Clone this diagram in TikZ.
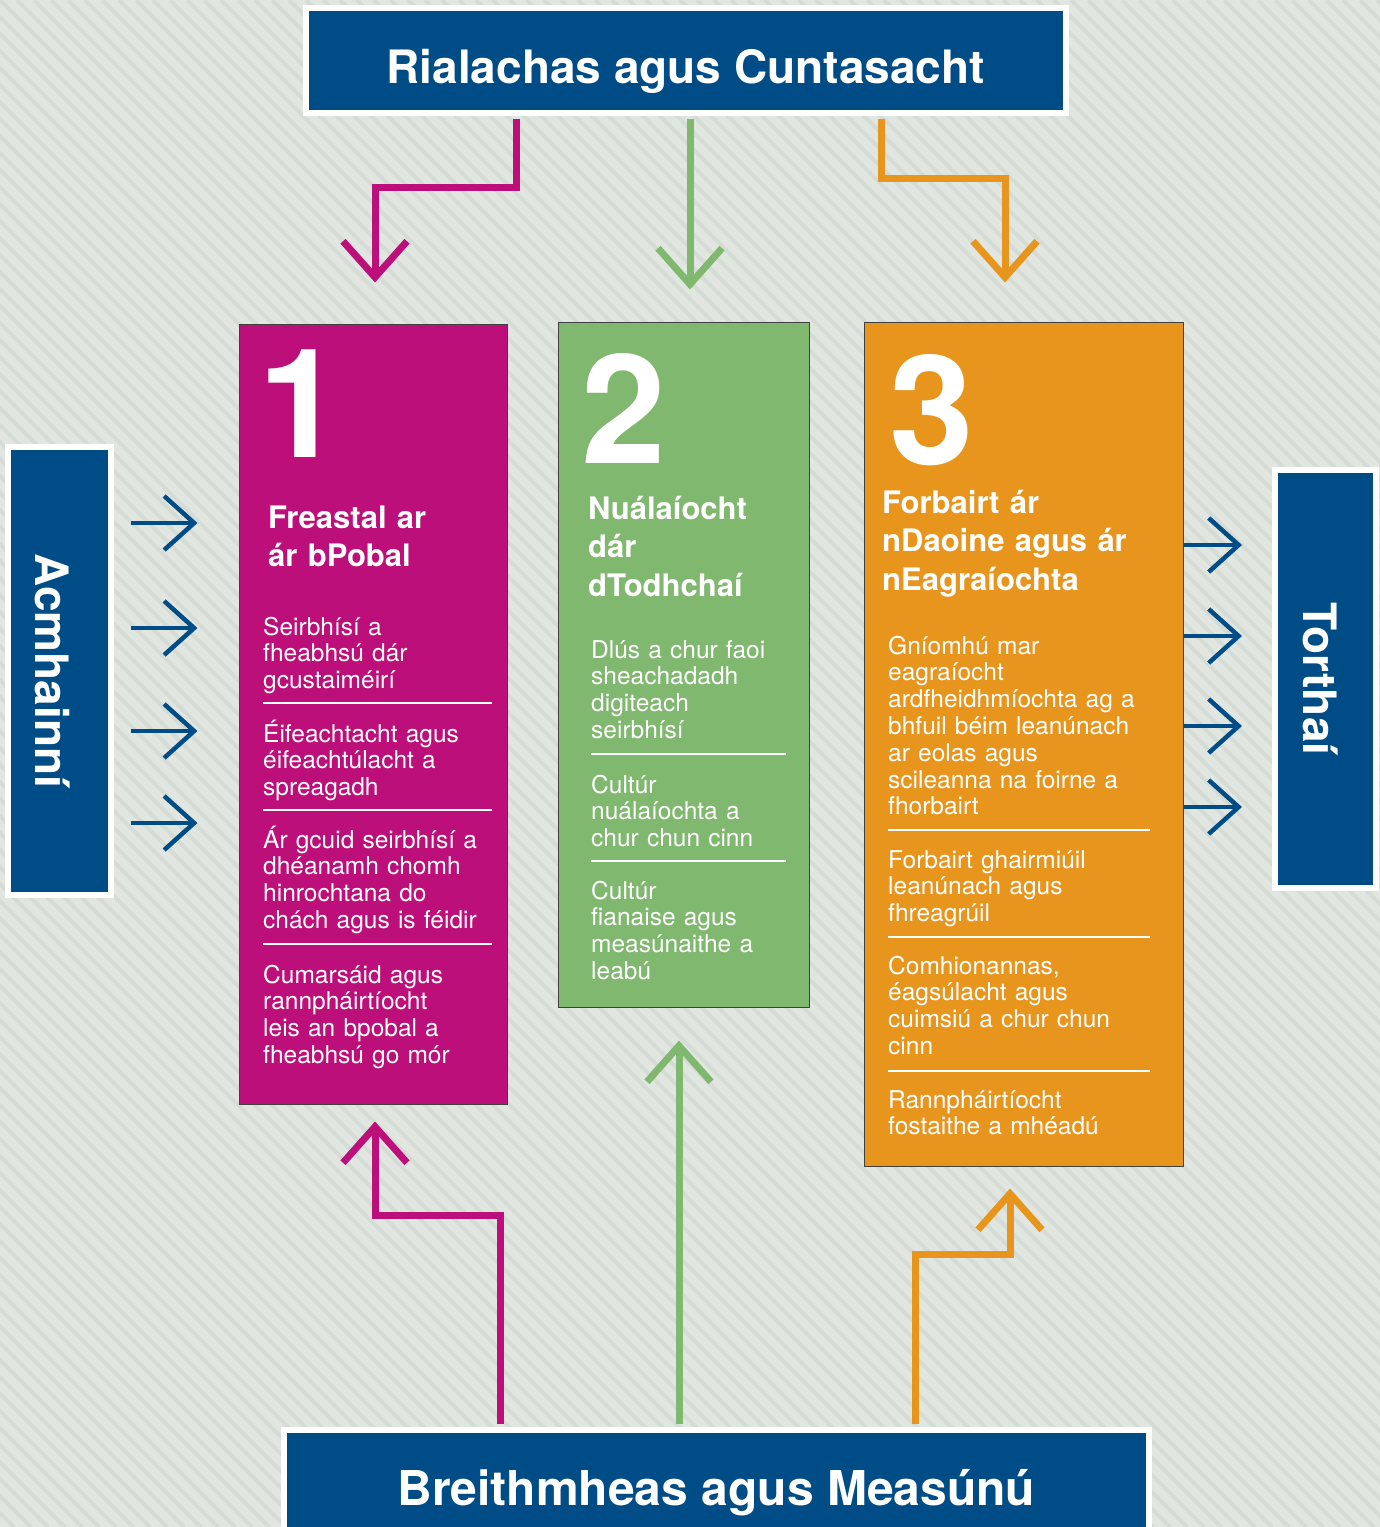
\documentclass[tikz,border=0pt]{standalone}
\usepackage{fontspec}
\setmainfont{TeX Gyre Heros}
\usepackage{tikz}
\usetikzlibrary{arrows.meta,calc,positioning}
\definecolor{govblue}{HTML}{004C86}
\definecolor{pinkc}{HTML}{BD0F79}
\definecolor{greenc}{HTML}{80B86F}
\definecolor{orangec}{HTML}{E8951E}
\definecolor{bgc}{HTML}{E1E6E1}
\definecolor{stripec}{HTML}{D5DCD5}
\tikzset{
  bluebox/.style={fill=govblue, draw=white, line width=6pt, inner sep=0pt, text=white, font=\bfseries\fontsize{46}{50}\selectfont},
  panel/.style={draw=black!75, line width=1pt, inner sep=0pt},
  bignum/.style={anchor=base west, inner sep=0pt, text depth=0pt, text=white, font=\bfseries\fontsize{152}{152}\selectfont},
  heading/.style={anchor=base west, inner sep=0pt, text=white, align=left, text width=300pt, font=\bfseries\fontsize{31}{38.7}\selectfont},
  bodytext/.style={anchor=base west, inner sep=0pt, text=white, align=left, text width=280pt, font=\fontsize{24.5}{26.8}\selectfont},
  sepline/.style={white, line width=1.5pt},
  govline/.style={#1, line width=7pt, line join=miter, -{Straight Barb[length=36pt, width=64pt, sharp]}},
  flowarrow/.style={govblue, line width=4.5pt, -{Straight Barb[length=30pt, width=54pt, sharp]}},
  stripe/.style={stripec, line width=4pt}
}
\begin{document}
\begin{tikzpicture}[x=1pt, y=-1pt]
\useasboundingbox (0,0) rectangle (1380,1527);
% background
\begin{scope}
\clip (0,0) rectangle (1380,1527);
\fill[bgc] (0,0) rectangle (1380,1527);
\foreach \s in {-1530,-1513,...,1380}
  \draw[stripe] (\s,0) -- ++(1527,1527);
\end{scope}

% outer boxes
\node[bluebox, minimum width=759.5pt, minimum height=104.5pt, text height=45.5pt, text depth=0pt] (gov) at (685.75,60.25) {Rialachas agus Cuntasacht};
\node[bluebox, minimum width=864.5pt, minimum height=150pt, text height=10pt, text depth=10pt, font=\bfseries\fontsize{48}{52}\selectfont] (eval) at (716.25,1505) {Breithmheas agus Measúnú};
\node[bluebox, rotate=-90, minimum width=448.5pt, minimum height=102.5pt, text height=48pt, text depth=0pt] (acm) at (59.25,671) {Acmhainní};
\node[bluebox, rotate=-90, minimum width=417.5pt, minimum height=100.5pt, text height=44pt, text depth=0pt] (tor) at (1325.25,678.75) {Torthaí};

% panels
\node[panel, fill=pinkc, minimum width=268pt, minimum height=780pt] (p1) at (373,714) {};
\node[panel, fill=greenc, minimum width=251pt, minimum height=685pt] (p2) at (683.5,664.5) {};
\node[panel, fill=orangec, minimum width=319pt, minimum height=844pt] (p3) at (1023.5,744) {};

\node[bignum] (num1) at (258,457) {1};
\node[bignum] (num2) at (581,463) {2};
\node[bignum] (num3) at (889,464) {3};

\node[heading] (head1) at (268,528) {Freastal ar\\ár bPobal};
\node[heading] (head2) at (588,519) {Nuálaíocht\\dár\\dTodhchaí};
\node[heading] (head3) at (882,513) {Forbairt ár\\nDaoine agus ár\\nEagraíochta};

\node[bodytext] (p1a) at (263,635) {Seirbhísí a\\fheabhsú dár\\gcustaiméirí};
\node[bodytext] (p1b) at (263,742) {Éifeachtacht agus\\éifeachtúlacht a\\spreagadh};
\node[bodytext] (p1c) at (263,848) {Ár gcuid seirbhísí a\\dhéanamh chomh\\hinrochtana do\\chách agus is féidir};
\node[bodytext] (p1d) at (263,983) {Cumarsáid agus\\rannpháirtíocht\\leis an bpobal a\\fheabhsú go mór};

\node[bodytext] (p2a) at (591,658) {Dlús a chur faoi\\sheachadadh\\digiteach\\seirbhísí};
\node[bodytext] (p2b) at (591,793) {Cultúr\\nuálaíochta a\\chur chun cinn};
\node[bodytext] (p2c) at (591,899) {Cultúr\\fianaise agus\\measúnaithe a\\leabú};

\node[bodytext] (p3a) at (888,654) {Gníomhú mar\\eagraíocht\\ardfheidhmíochta ag a\\bhfuil béim leanúnach\\ar eolas agus\\scileanna na foirne a\\fhorbairt};
\node[bodytext] (p3b) at (888,868) {Forbairt ghairmiúil\\leanúnach agus\\fhreagrúil};
\node[bodytext] (p3c) at (888,974) {Comhionannas,\\éagsúlacht agus\\cuimsiú a chur chun\\cinn};
\node[bodytext] (p3d) at (888,1108) {Rannpháirtíocht\\fostaithe a mhéadú};

\foreach \y in {703,810,944}
  \draw[sepline] (263,\y) -- (492,\y);
\foreach \y in {754,861}
  \draw[sepline] (591,\y) -- (786,\y);
\foreach \y in {830,937,1071}
  \draw[sepline] (888,\y) -- (1150,\y);

% connectors
\draw[govline=pinkc] ($(gov.south -| 516,0)+(0,3)$) -- ++(0,69) -| ($(p1.north)+(2,-41)$);
\draw[govline=greenc] ($(gov.south -| 690,0)+(0,3)$) -- ($(p2.north -| 690,0)+(0,-32)$);
\draw[govline=orangec] ($(gov.south -| 881,0)+(0,3)$) -- ++(0,60) -| ($(p3.north -| 1005,0)+(0,-39)$);

\draw[govline=pinkc] ($(eval.north -| 500,0)+(0,-3)$) -- ++(0,-209) -| ($(p1.south)+(2,17)$);
\draw[govline=greenc] ($(eval.north -| 679,0)+(0,-3)$) -- ($(p2.south -| 679,0)+(0,33)$);
\draw[govline=orangec] ($(eval.north -| 915,0)+(0,-3)$) -- ++(0,-170) -| ($(p3.south -| 1010,0)+(0,22)$);

% acm and tor are turned, so their north is on the right
\foreach \y in {523,628,731,823}
  \draw[flowarrow] ($(acm.north |- 0,\y)+(17,0)$) -- ($(p1.west |- 0,\y)+(-41,0)$);
\foreach \y in {545,636,726,807}
  \draw[flowarrow] (p3.east |- 0,\y) -- ($(tor.south |- 0,\y)+(-30,0)$);
\end{tikzpicture}
\end{document}
